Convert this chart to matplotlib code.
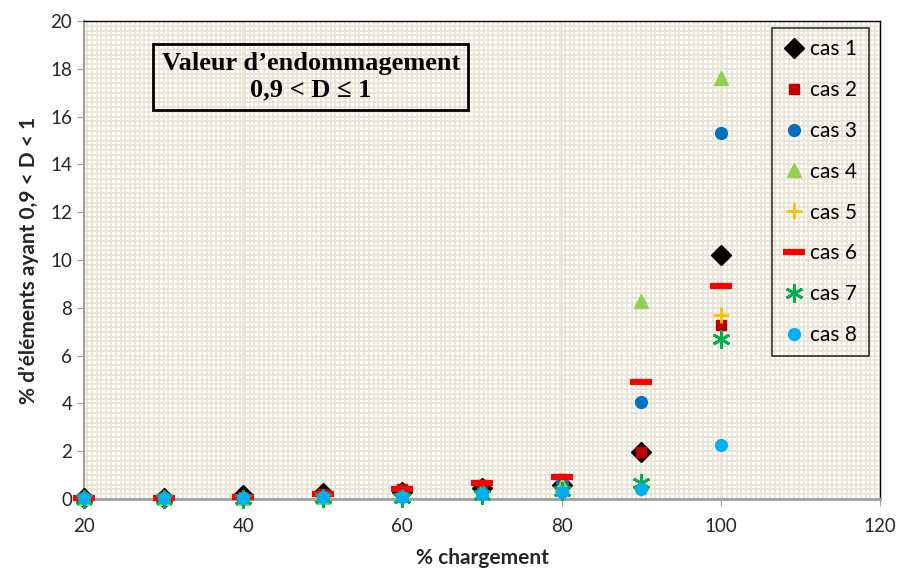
import numpy as np
import matplotlib.pyplot as plt
from matplotlib.ticker import MultipleLocator

# Données
chargement = [20, 30, 40, 50, 60, 70, 80, 90, 100]
cas1 = [0.05, 0.05, 0.18, 0.25, 0.30, 0.45, 0.60, 1.95, 10.2]
cas2 = [0.05, 0.05, 0.10, 0.20, 0.40, 0.60, 0.85, 1.95, 7.3]
cas3 = [0.05, 0.05, 0.05, 0.10, 0.20, 0.30, 0.65, 4.05, 15.3]
cas4 = [0.05, 0.05, 0.05, 0.10, 0.20, 0.35, 0.60, 8.3, 17.6]
cas5 = [0.05, 0.05, 0.05, 0.10, 0.20, 0.30, 0.50, 0.45, 7.7]
cas6 = [0.05, 0.05, 0.10, 0.20, 0.43, 0.66, 0.92, 4.9, 8.9]
cas7 = [0.0, 0.0, 0.0, 0.05, 0.05, 0.15, 0.35, 0.65, 6.7]
cas8 = [0.05, 0.05, 0.05, 0.10, 0.10, 0.20, 0.30, 0.40, 2.25]

series = [cas1, cas2, cas3, cas4, cas5, cas6, cas7, cas8]
noms = ["cas 1", "cas 2", "cas 3", "cas 4", "cas 5", "cas 6", "cas 7", "cas 8"]

#Styles des marqueurs (marker, couleur, taille, epaisseur)
styles = [
    ("D", "black", 10, 1),
    ("s", "#C00000", 6.5, 1),
    ("o", "#0070C0", 8.5, 1),
    ("^", "#92D050", 10, 1),
    ("+", "#FFC000", 11, 2),
    ("_", "#FF0000", 16, 4.5),
    ((6, 2, 0), "#00B050", 13, 2),
    ("o", "#00B0F0", 8.5, 1),
]

fig = plt.figure(figsize=(8.97, 5.69), dpi=100)
ax = fig.add_axes([0.0936, 0.123, 0.8874, 0.840])

#Grille fine (motif de fond)
ax.set_facecolor("white")
ax.xaxis.set_minor_locator(MultipleLocator(0.6))
ax.yaxis.set_minor_locator(MultipleLocator(0.2))
ax.grid(which="minor", color="#E6E3D2", linewidth=1.2)
ax.grid(which="major", color="#E6E3D2", linewidth=1.2)
ax.set_axisbelow(True)

for s, nom, (m, c, ms, mew) in zip(series, noms, styles):
    ax.plot(chargement, s, linestyle="none", marker=m, color=c, markersize=ms,
            markeredgewidth=mew, label=nom, clip_on=False, zorder=3)

ax.set_xlim(20, 120)
ax.set_ylim(0, 20)
ax.xaxis.set_major_locator(MultipleLocator(20))
ax.yaxis.set_major_locator(MultipleLocator(2))
ax.tick_params(which="minor", length=0)
ax.tick_params(which="major", direction="out", length=5, color="#A0A0A0",
               labelsize=13.5, labelcolor="#262626")
ax.tick_params(axis="x", pad=9)

for cote in ["left", "bottom"]:
    ax.spines[cote].set_color("#A0A0A0")
ax.spines["left"].set_linewidth(1.5)
ax.spines["bottom"].set_linewidth(2)
for cote in ["top", "right"]:
    ax.spines[cote].set_color("black")
    ax.spines[cote].set_linewidth(1)

for lab in ax.get_xticklabels() + ax.get_yticklabels():
    lab.set_family("Lato")

ax.set_xlabel("% chargement", fontsize=15, fontweight="bold", family="Lato",
              labelpad=9, color="#262626")
ax.set_ylabel("% d’éléments ayant 0,9 < D < 1", fontsize=15, fontweight="bold",
              family="Lato", labelpad=8, color="#262626")

leg = ax.legend(loc="upper right", bbox_to_anchor=(0.986, 0.986),
                prop={"family": "Lato", "size": 15}, frameon=True,
                fancybox=False, edgecolor="black", facecolor="none",
                handlelength=1.0, handletextpad=0.3, labelspacing=1.0,
                borderpad=0.55, borderaxespad=0)
leg.get_frame().set_linewidth(1.2)

ax.text(0.285, 0.883, "Valeur d’endommagement\n0,9 < D ≤ 1",
        transform=ax.transAxes, ha="center", va="center", fontsize=19,
        fontweight="bold", family="Liberation Serif", linespacing=1.2,
        bbox=dict(boxstyle="square,pad=0.32", facecolor="none",
                  edgecolor="black", linewidth=2))

fig.savefig("out.png", dpi=100)
